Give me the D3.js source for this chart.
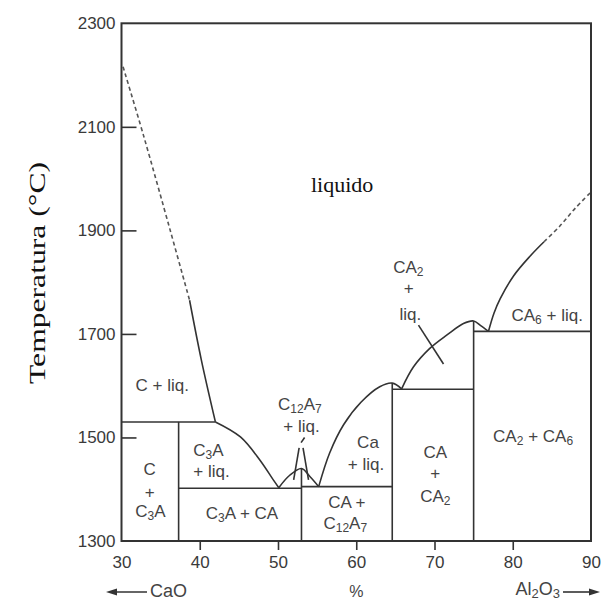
<!DOCTYPE html>
<meta charset="utf-8">
<style>
body { margin: 0; background: #fff; }
.axis .domain { display: none; }
.axis text { font-family: "Liberation Sans", Arial, sans-serif; font-size: 17px; fill: #3a3a3a; }
.axis line { stroke: #333; stroke-width: 1.6px; }
.frame { fill: none; stroke: #333; stroke-width: 2px; }
.boundary { fill: none; stroke: #333; stroke-width: 1.6px; }
.dashed { stroke: #555; stroke-dasharray: 4,3; }
.phase { font-family: "Liberation Sans", Arial, sans-serif; font-size: 17px; fill: #444; text-anchor: middle; }
.serif { font-family: "Liberation Serif", "Times New Roman", serif; fill: #111; text-anchor: middle; }
.note { font-family: "Liberation Sans", Arial, sans-serif; font-size: 18px; fill: #444; }
</style>
<body>
<script src="https://cdn.jsdelivr.net/npm/d3@7"></script>
<script>

var xTicks = [30, 40, 50, 60, 70, 80, 90],
    yTicks = [1300, 1500, 1700, 1900, 2100, 2300];

// boundaries, as [% Al2O3, temperature]
var cLiquidusDashed = [[30.2, 2216], [32.8, 2084], [36.3, 1896], [38.7, 1765]],
    cLiquidus = [[38.7, 1765], [40.2, 1650], [42, 1530]],
    c3aLiquidus = [[42, 1530], [45.2, 1501], [47.7, 1456], [49.4, 1418], [50.1, 1403]],
    c12a7Liquidus = [[50.1, 1403], [51.5, 1427], [53, 1440], [54.1, 1424], [55.2, 1405]],
    caLiquidus = [[55.2, 1405], [56.6, 1470], [58.4, 1525], [60.6, 1568], [63, 1598], [64.6, 1605], [65.8, 1594]],
    ca2Liquidus = [[65.8, 1594], [67.3, 1636], [69.4, 1672], [71.6, 1698], [73.7, 1720], [75, 1725], [75.9, 1716], [76.9, 1705]],
    ca6Liquidus = [[76.9, 1705], [77.6, 1740], [78.4, 1768], [80.1, 1812], [82.2, 1850], [84, 1878]],
    ca6LiquidusDashed = [[84, 1878], [86, 1908], [88, 1943], [90, 1974]];

var segments = [
  [[52.0, 1418], [52.7, 1480]],
  [[53.9, 1418], [53.2, 1480]],
  [[52.95, 1490], [53.4, 1500]],
  [[67.95, 1717], [71.15, 1642]]
];

// [from, to, temperature]
var isotherms = [[30, 42, 1530], [37.3, 53, 1402], [53, 64.6, 1405], [64.6, 75, 1593], [75, 90, 1705]];
// [composition, top temperature]
var compounds = [[37.3, 1530], [53, 1440], [64.6, 1605], [75, 1725]];

// [text, composition, temperature]  (_n = subscript)
var phaseLabels = [
  ["C + liq.", 35.2, 1590],
  ["C", 33.6, 1427],
  ["+", 33.6, 1384],
  ["C_3A", 33.7, 1347],
  ["C_3A", 41.1, 1464],
  ["+ liq.", 41.5, 1424],
  ["C_3A + CA", 45.4, 1342],
  ["C_12A_7", 52.8, 1554],
  ["+ liq.", 53.0, 1511],
  ["Ca", 61.5, 1479],
  ["+ liq.", 61.25, 1437],
  ["CA +", 58.8, 1364],
  ["C_12A_7", 58.6, 1324],
  ["CA", 70.1, 1460],
  ["+", 70.1, 1420],
  ["CA_2", 70.1, 1376],
  ["CA_2 + CA_6", 82.6, 1492],
  ["CA_2", 66.65, 1817],
  ["+", 66.7, 1777],
  ["liq.", 66.9, 1727],
  ["CA_6 + liq.", 84.4, 1724]
];

var margin = {top: 23.3, right: 10, bottom: 61, left: 121.5},
    width = 469.5,
    height = 517.7;

var x = d3.scaleLinear().domain([30, 90]).range([0, width]);
var y = d3.scaleLinear().domain([1300, 2300]).range([height, 0]);

var svg = d3.select("body").append("svg")
    .attr("width", 601)
    .attr("height", 602);

var g = svg.append("g")
    .attr("transform", "translate(" + margin.left + "," + margin.top + ")");

var xAxis = g.append("g")
    .attr("class", "axis axis--x")
    .attr("transform", "translate(0," + height + ")")
    .call(d3.axisBottom(x).tickValues(xTicks).tickSize(9).tickPadding(6));
xAxis.selectAll(".tick line").filter(function(d) { return d === 30 || d === 90; }).remove();

var yAxis = g.append("g")
    .attr("class", "axis axis--y")
    .call(d3.axisLeft(y).tickValues(yTicks).tickSize(-15).tickPadding(6).tickFormat(d3.format("d")));
yAxis.selectAll(".tick line").filter(function(d) { return d === 1300 || d === 2300; }).remove();

var line = d3.line()
    .x(function(d) { return x(d[0]); })
    .y(function(d) { return y(d[1]); })
    .curve(d3.curveCatmullRom.alpha(0.5));

var straight = d3.line()
    .x(function(d) { return x(d[0]); })
    .y(function(d) { return y(d[1]); });

[cLiquidus, c3aLiquidus, c12a7Liquidus, caLiquidus, ca2Liquidus, ca6Liquidus].forEach(function(c) {
  g.append("path").attr("class", "boundary").attr("d", line(c));
});
[cLiquidusDashed, ca6LiquidusDashed].forEach(function(c) {
  g.append("path").attr("class", "boundary dashed").attr("d", line(c));
});
segments.forEach(function(s) {
  g.append("path").attr("class", "boundary").attr("d", straight(s));
});

g.selectAll(".iso")
    .data(isotherms)
  .enter().append("line")
    .attr("class", "boundary")
    .attr("x1", function(d) { return x(d[0]); })
    .attr("x2", function(d) { return x(d[1]); })
    .attr("y1", function(d) { return y(d[2]); })
    .attr("y2", function(d) { return y(d[2]); });

g.selectAll(".cmp")
    .data(compounds)
  .enter().append("line")
    .attr("class", "boundary")
    .attr("x1", function(d) { return x(d[0]); })
    .attr("x2", function(d) { return x(d[0]); })
    .attr("y1", y(1300))
    .attr("y2", function(d) { return y(d[1]); });

g.append("rect")
    .attr("class", "frame")
    .attr("width", width)
    .attr("height", height);

// text with subscripts
function richText(sel, str, subSize) {
  var parts = str.split(/_(\d+)/);
  parts.forEach(function(p, i) {
    if (!p) return;
    var t = sel.append("tspan").text(p);
    if (i % 2) t.attr("font-size", subSize).attr("dy", 3);
    else if (i > 0) t.attr("dy", -3);
  });
}

phaseLabels.forEach(function(d) {
  var t = g.append("text")
      .attr("class", "phase")
      .attr("x", x(d[1]))
      .attr("y", y(d[2]));
  richText(t, d[0], "12px");
});

g.append("text")
    .attr("class", "serif")
    .attr("x", x(58.2))
    .attr("y", y(1975))
    .style("font-size", "22px")
    .text("liquido");

svg.append("text")
    .attr("class", "serif")
    .attr("transform", "translate(45,273) rotate(-90)")
    .attr("textLength", 222)
    .attr("lengthAdjust", "spacingAndGlyphs")
    .style("font-size", "23px")
    .text("Temperatura (°C)");

// composition direction notes
var notes = svg.append("g");
notes.append("line").attr("x1", 114).attr("x2", 147).attr("y1", 592).attr("y2", 592)
    .attr("stroke", "#333").attr("stroke-width", 1.6);
notes.append("path").attr("d", "M106,592L117,588.5L117,595.5Z").attr("fill", "#333");
notes.append("text").attr("class", "note").attr("x", 150).attr("y", 597).text("CaO");

notes.append("text").attr("class", "note").attr("x", margin.left + x(60)).attr("y", 597)
    .attr("text-anchor", "middle").style("font-size", "16px").text("%");

var al = notes.append("text").attr("class", "note").attr("x", 560).attr("y", 595)
    .attr("text-anchor", "end");
richText(al, "Al_2O_3", "13px");
notes.append("line").attr("x1", 563).attr("x2", 592).attr("y1", 592).attr("y2", 592)
    .attr("stroke", "#333").attr("stroke-width", 1.6);
notes.append("path").attr("d", "M600,592L589,588.5L589,595.5Z").attr("fill", "#333");

</script>
